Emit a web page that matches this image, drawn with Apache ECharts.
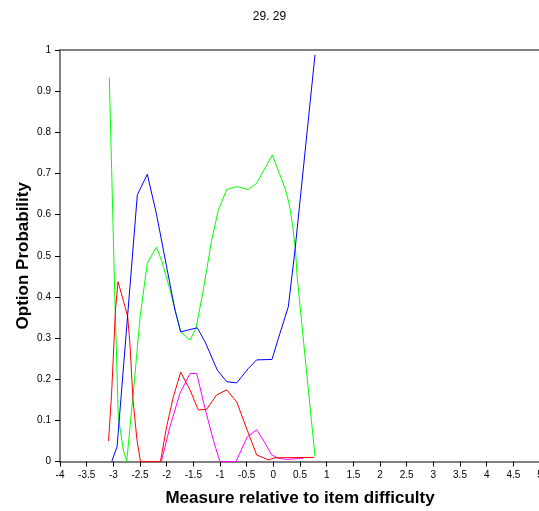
<!DOCTYPE html>
<html>
<head>
<meta charset="utf-8">
<script src="https://cdn.jsdelivr.net/npm/echarts@6/dist/echarts.min.js"></script>
<style>
html,body{margin:0;padding:0;background:#fff;}
#chart{width:539px;height:511px;}
</style>
</head>
<body>
<div id="chart"></div>
<script>
var titleText = "29. 29";
var xAxisTitle = "Measure relative to item difficulty";
var yAxisTitle = "Option Probability";

var blueX = [-3.03, -2.93, -2.55, -2.363, -2.194, -1.844, -1.737, -1.426, -1.281, -1.05, -0.874, -0.687, -0.469, -0.312, -0.025, 0.094, 0.281, 0.406, 0.781];
var blueY = [0.0, 0.036, 0.648, 0.698, 0.603, 0.368, 0.315, 0.325, 0.291, 0.222, 0.194, 0.191, 0.226, 0.247, 0.248, 0.299, 0.376, 0.514, 0.988];

var greenX = [-3.076, -3.031, -2.982, -2.963, -2.907, -2.813, -2.749, -2.72, -2.612, -2.5, -2.363, -2.19, -2.087, -1.937, -1.737, -1.562, -1.45, -1.313, -1.156, -1.031, -0.874, -0.687, -0.469, -0.312, -0.019, 0.219, 0.294, 0.36, 0.416, 0.444, 0.781];
var greenY = [0.933, 0.708, 0.449, 0.361, 0.109, 0.028, 0.0, 0.0, 0.186, 0.349, 0.482, 0.521, 0.485, 0.417, 0.315, 0.295, 0.324, 0.417, 0.538, 0.611, 0.661, 0.668, 0.661, 0.676, 0.745, 0.664, 0.628, 0.575, 0.514, 0.453, 0.012];

var redX = [-3.09, -3.034, -2.96, -2.912, -2.781, -2.731, -2.687, -2.631, -2.556, -2.491, -2.116, -2.0, -1.875, -1.737, -1.562, -1.406, -1.25, -1.062, -0.874, -0.687, -0.469, -0.312, -0.094, 0.031, 0.769];
var redY = [0.05, 0.161, 0.368, 0.437, 0.376, 0.352, 0.283, 0.149, 0.052, 0.0, 0.0, 0.085, 0.157, 0.217, 0.174, 0.125, 0.127, 0.162, 0.174, 0.145, 0.069, 0.016, 0.004, 0.009, 0.01];

var magentaX = [-2.1, -1.937, -1.75, -1.562, -1.437, -1.281, -1.125, -1.031, -1.0, -0.7, -0.488, -0.312, -0.188, -0.031, 0.094, 0.25, 0.562];
var magentaY = [0.0, 0.085, 0.166, 0.214, 0.214, 0.129, 0.052, 0.012, 0.0, 0.0, 0.06, 0.077, 0.052, 0.016, 0.008, 0.005, 0.008];

function pairs(xs, ys) {
  var out = [];
  for (var i = 0; i < xs.length; i++) out.push([xs[i], ys[i]]);
  return out;
}

function lineSeries(name, xs, ys, color) {
  return {
    name: name,
    type: 'line',
    data: pairs(xs, ys),
    symbol: 'none',
    smooth: false,
    lineStyle: { color: color, width: 1 },
    itemStyle: { color: color },
    xAxisIndex: 0,
    yAxisIndex: 0,
    z: 3
  };
}

var chart = echarts.init(document.getElementById('chart'), null, { renderer: 'canvas' });
var fontFam = 'Arial, "Liberation Sans", sans-serif';
chart.setOption({
  animation: false,
  backgroundColor: '#ffffff',
  title: {
    text: titleText,
    left: 'center',
    top: 6,
    textStyle: { fontSize: 12, fontWeight: 'normal', color: '#000', fontFamily: fontFam }
  },
  grid: { left: 60, width: 480, top: 50, bottom: 49.5, containLabel: false, outerBoundsMode: 'none' },
  xAxis: [{
    type: 'value',
    min: -4, max: 5, interval: 0.5,
    position: 'bottom',
    name: xAxisTitle,
    nameLocation: 'middle',
    nameGap: 28,
    nameTextStyle: { fontSize: 17, fontWeight: 'bold', color: '#000', fontFamily: fontFam },
    axisLine: { show: true, onZero: false, lineStyle: { color: '#808080', width: 2 } },
    axisTick: { show: true, length: 5, lineStyle: { color: '#000', width: 1 } },
    axisLabel: { fontSize: 10, color: '#000', margin: 9, fontFamily: fontFam, showMaxLabel: true },
    splitLine: { show: false }
  }, {
    type: 'value',
    min: -4, max: 5,
    position: 'top',
    axisLine: { show: true, onZero: false, lineStyle: { color: '#808080', width: 2 } },
    axisTick: { show: false },
    axisLabel: { show: false },
    splitLine: { show: false }
  }],
  yAxis: {
    type: 'value',
    min: 0, max: 1, interval: 0.1,
    name: yAxisTitle,
    nameLocation: 'middle',
    nameGap: 28,
    nameMoveOverlap: false,
    nameTextStyle: { fontSize: 17, fontWeight: 'bold', color: '#000', fontFamily: fontFam },
    axisLine: { show: true, onZero: false, lineStyle: { color: '#808080', width: 2 } },
    axisTick: { show: true, length: 5, lineStyle: { color: '#000', width: 1 } },
    axisLabel: { fontSize: 10, color: '#000', margin: 9, fontFamily: fontFam },
    splitLine: { show: false }
  },
  series: [
    lineSeries('green', greenX, greenY, '#00ff00'),
    lineSeries('magenta', magentaX, magentaY, '#ff00ff'),
    lineSeries('red', redX, redY, '#ff0000'),
    lineSeries('blue', blueX, blueY, '#0000ff')
  ]
});
</script>
</body>
</html>
